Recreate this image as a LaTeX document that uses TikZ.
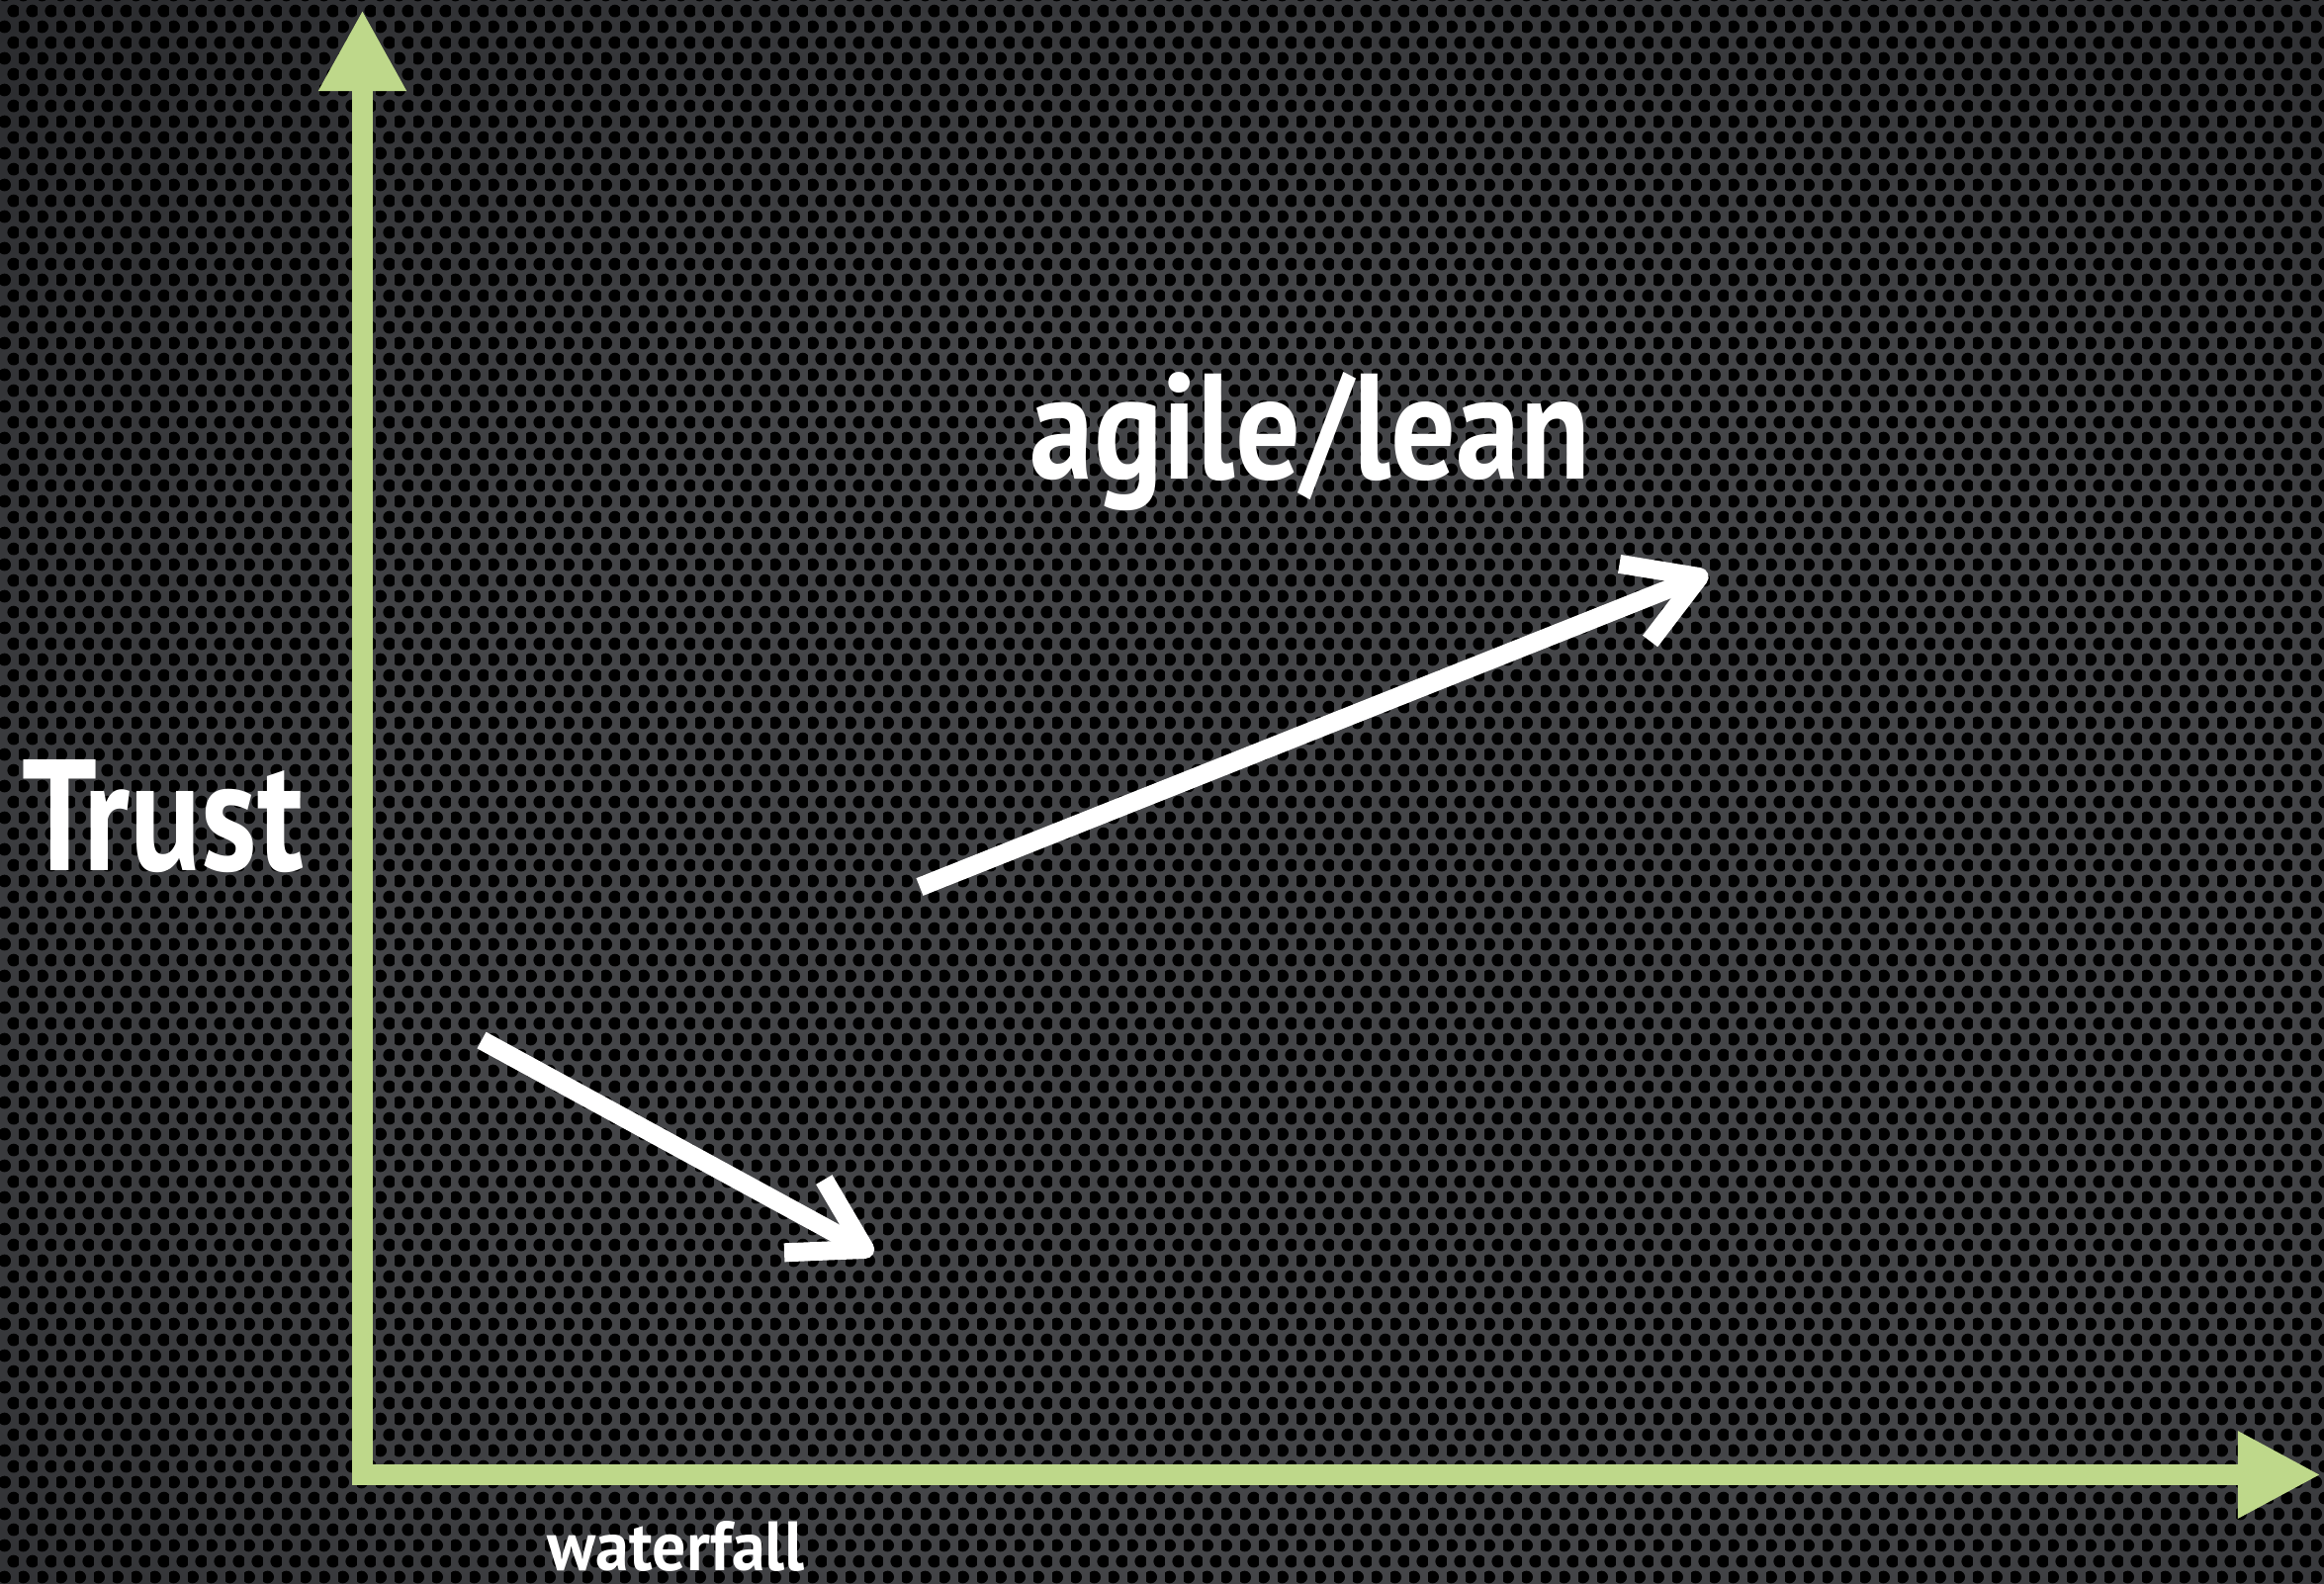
\documentclass[tikz,border=0pt]{standalone}
\usepackage{graphicx}
\usepackage{fontspec}
\setmainfont{PT Sans}
\usepackage{tikz}
\usetikzlibrary{arrows.meta,patterns}
\definecolor{axegreen}{RGB}{190,216,138}
\definecolor{bgmid}{RGB}{68,69,72}
\definecolor{bgedge}{RGB}{36,37,40}
\definecolor{bgdark}{RGB}{11,12,14}
\pgfdeclareradialshading{glow}{\pgfpoint{0bp}{0bp}}{color(0bp)=(bgmid); color(16bp)=(bgmid); color(36bp)=(bgedge); color(54bp)=(bgdark); color(80bp)=(bgdark)}
\pgfdeclarepatternformonly{holes}{\pgfpointorigin}{\pgfpoint{5.32pt}{9.22pt}}{\pgfpoint{5.32pt}{9.22pt}}{
  \pgfpathcircle{\pgfpoint{1.33pt}{2.305pt}}{1.85pt}
  \pgfpathcircle{\pgfpoint{3.99pt}{6.915pt}}{1.85pt}
  \pgfusepath{fill}}
\tikzstyle{axe}=[draw=axegreen,line width=0.21cm,line join=miter,
  {Triangle[length=0.82cm,width=0.83cm]}-{Triangle[length=0.84cm,width=0.82cm]}]
\tikzstyle{trend}=[draw=white,line width=0.19cm,
  -{Straight Barb[length=0.7cm,width=0.84cm,line join=round,line cap=butt]}]
\tikzstyle{lbl}=[text=white,inner sep=0pt,font=\bfseries,anchor=base west]

\begin{document}
\begin{tikzpicture}[x=0.01cm,y=-0.01cm]
\useasboundingbox (0,0) rectangle (2350,1602);
\clip (0,0) rectangle (2350,1602);
\shade[shading=glow] (-150,-50) rectangle (2850,1950);
\fill[pattern=holes,pattern color=black] (0,0) rectangle (2350,1602);

\coordinate (ytip) at (366.5,10);
\coordinate (origin) at (366.5,1491.5);
\coordinate (xtip) at (2347,1491.5);
\draw[axe] (ytip) -- (origin) -- (xtip);

\coordinate (fallstart) at (487,1052);
\coordinate (fallend) at (883,1268);
\coordinate (risestart) at (930,897);
\coordinate (riseend) at (1727,580);
\draw[trend] (fallstart) -- (fallend);
\draw[trend] (risestart) -- (riseend);

\node[lbl] (trust) at (22,880) {\resizebox{2.84cm}{1.12cm}{Trust}};
\node[lbl] (waterfall) at (553,1588) {\resizebox{2.6cm}{0.5cm}{waterfall}};
\node[lbl] (agile) at (1041,484) {\resizebox{5.66cm}{1.08cm}{agile/lean}};
\end{tikzpicture}
\end{document}
